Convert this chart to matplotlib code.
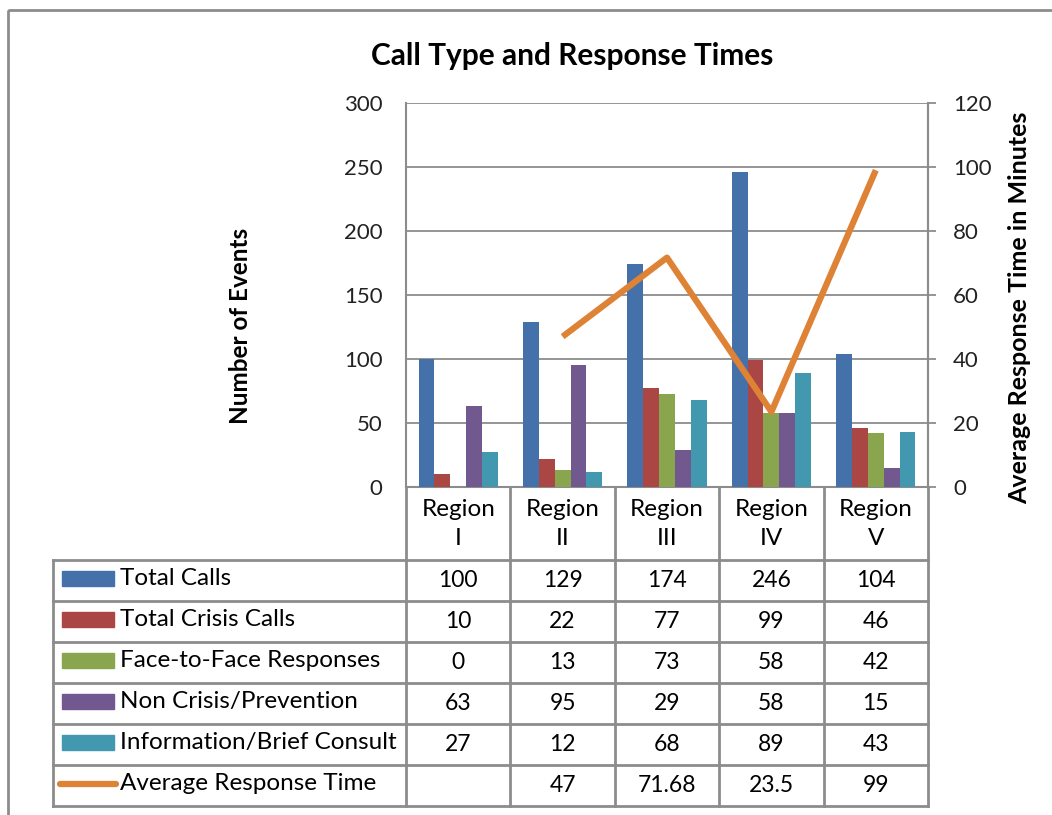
import numpy as np
import matplotlib.pyplot as plt
from matplotlib.patches import Rectangle
from matplotlib.lines import Line2D

regions = ["Region\nI", "Region\nII", "Region\nIII", "Region\nIV", "Region\nV"]
series_names = ["Total Calls", "Total Crisis Calls", "Face-to-Face Responses",
                "Non Crisis/Prevention", "Information/Brief Consult"]
total_calls = [100, 129, 174, 246, 104]
crisis_calls = [10, 22, 77, 99, 46]
face_to_face = [0, 13, 73, 58, 42]
non_crisis = [63, 95, 29, 58, 15]
info_consult = [27, 12, 68, 89, 43]
avg_response = [np.nan, 47, 71.68, 23.5, 99]
avg_response_labels = ["", "47", "71.68", "23.5", "99"]

bar_colors = ["#4571AA", "#AA4643", "#89A54E", "#71588F", "#4198AF"]
line_color = "#DE8236"
grid_gray = "#8C8C8C"

plt.rcParams['font.family'] = ['Lato', 'DejaVu Sans']

W, H = 1052, 815
fig = plt.figure(figsize=(W / 100, H / 100), dpi=100)

# plot area in pixel coords
px_l, px_r, px_t, px_b = 406, 928, 103, 487
ax = fig.add_axes([px_l / W, 1 - px_b / H, (px_r - px_l) / W, (px_b - px_t) / H])
ax2 = ax.twinx()

series = [total_calls, crisis_calls, face_to_face, non_crisis, info_consult]
x = np.arange(len(regions))
bw = 0.152
for i, (vals, c) in enumerate(zip(series, bar_colors)):
    ax.bar(x + (i - 2) * bw, vals, width=bw, color=c, zorder=3)

ax.set_xlim(-0.5, len(regions) - 0.5)
ax.set_ylim(0, 300)
ax.set_yticks(range(0, 301, 50))
ax.set_xticks([])
ax.yaxis.grid(True, color=grid_gray, lw=1.3, zorder=0)
ax.set_axisbelow(True)
ax.spines["top"].set_visible(False)
for side in ["left", "right", "bottom"]:
    ax.spines[side].set_color(grid_gray)
    ax.spines[side].set_linewidth(1.5)
ax.tick_params(axis='y', direction='out', length=0, width=1.3, color=grid_gray,
               labelsize=16, labelcolor='#222222', pad=17)

ax2.plot(x, avg_response, color=line_color, lw=4.5, solid_capstyle='butt', zorder=4)
ax2.set_ylim(0, 120)
ax2.set_yticks(range(0, 121, 20))
for side in ["top", "left", "bottom"]:
    ax2.spines[side].set_visible(False)
ax2.spines["right"].set_color(grid_gray)
ax2.spines["right"].set_linewidth(1.5)
ax2.tick_params(axis='y', direction='out', length=6, width=1.3, color=grid_gray,
                labelsize=16, labelcolor='#222222', pad=12)

# overlay in pixel coords for titles and border
ov = fig.add_axes([0, 0, 1, 1], zorder=-1)
ov.set_xlim(0, W)
ov.set_ylim(H, 0)
ov.axis('off')

ov.add_patch(Rectangle((8, 10), W + 20, H + 20, fill=False, ec="#8C8C8C", lw=2))
ov.text(572, 56, "Call Type and Response Times", ha='center', va='center',
        fontsize=21.5, fontweight='bold', color='black')
ov.text(240, 326, "Number of Events", ha='center', va='center', rotation=90,
        fontsize=17.5, fontweight='bold')
ov.text(1020, 308, "Average Response Time in Minutes", ha='center', va='center',
        rotation=90, fontsize=18, fontweight='bold')

# data table under the plot area
tb = fig.add_axes([0, 0, 1, 1], zorder=5)
tb.set_xlim(0, W)
tb.set_ylim(H, 0)
tb.axis('off')
tb.patch.set_alpha(0)

col_edges = [px_l + k * (px_r - px_l) / len(regions) for k in range(len(regions) + 1)]
tab_left = 53
head_bot = 560
row_h = 41
n_rows = len(series_names) + 1
tab_bot = head_bot + n_rows * row_h
lc = "#8C8C8C"
lw = 2

for xe in col_edges:
    tb.plot([xe, xe], [px_b, tab_bot], color=lc, lw=lw)
tb.plot([tab_left, tab_left], [head_bot, tab_bot], color=lc, lw=lw)
for r in range(n_rows + 1):
    yy = head_bot + r * row_h
    tb.plot([tab_left, col_edges[-1]], [yy, yy], color=lc, lw=lw)

for k, name in enumerate(regions):
    cx = (col_edges[k] + col_edges[k + 1]) / 2
    tb.text(cx, 524, name, ha='center', va='center', fontsize=17.5, linespacing=1.45)

row_labels = series_names + ["Average Response Time"]
row_values = [[str(v) for v in s] for s in series] + [avg_response_labels]
for r, (lab, vals) in enumerate(zip(row_labels, row_values)):
    yc = head_bot + r * row_h + row_h / 2
    if r < len(series_names):
        tb.add_patch(Rectangle((62, yc - 9.5), 52, 15, color=bar_colors[r]))
    else:
        tb.add_line(Line2D([60, 116], [yc - 2, yc - 2], color=line_color, lw=4.5,
                           solid_capstyle='round'))
    tb.text(120, yc - 2, lab, ha='left', va='center', fontsize=17.5)
    for k, v in enumerate(vals):
        cx = (col_edges[k] + col_edges[k + 1]) / 2
        tb.text(cx, yc, v, ha='center', va='center', fontsize=16.5)

fig.savefig("out.png", dpi=100, facecolor='white')
